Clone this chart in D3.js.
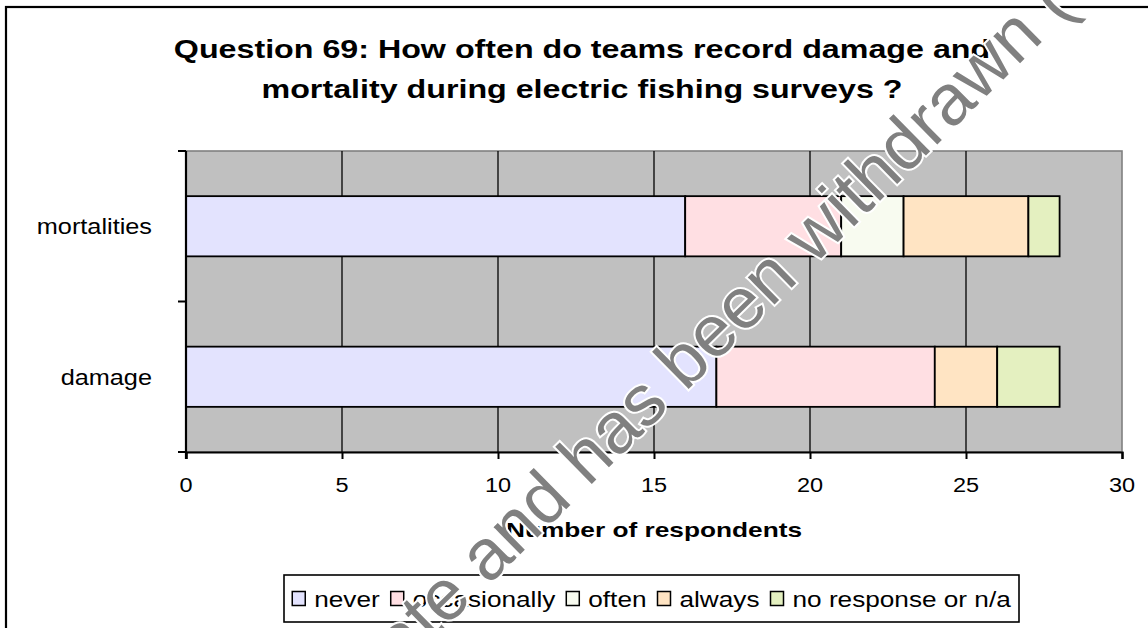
<!DOCTYPE html>
<html><head><meta charset="utf-8">
<script src="https://cdn.jsdelivr.net/npm/d3@7"></script>
<style>
body{margin:0;background:#fff}
svg{display:block}
text{font-family:Arial,"Liberation Sans",sans-serif}
</style>
</head><body>
<svg id="chart" width="1148" height="628"></svg>
<script>
// Survey answers, Question 69 (number of respondents)
const categories = ["mortalities", "damage"];
const seriesNames = ["never", "occasionally", "often", "always", "no response or n/a"];
const never = [16, 17];
const occasionally = [5, 7];
const often = [2, 0];
const always = [4, 2];
const noResponse = [1, 2];
const xTicks = [0, 5, 10, 15, 20, 25, 30];
const titleLines = ["Question 69: How often do teams record damage and", "mortality during electric fishing surveys ?"];
const seriesColors = ["#E3E3FE", "#FFDFE3", "#F8FBF0", "#FFE4C3", "#E4F0C0"];

const rows = categories.map((c, i) => ({
  category: c,
  "never": never[i],
  "occasionally": occasionally[i],
  "often": often[i],
  "always": always[i],
  "no response or n/a": noResponse[i]
}));

const svg = d3.select("#chart");
const plot = {left: 186, right: 1122, top: 151, bottom: 452};

// text helper: the chart's text is set slightly widened
function label(parent, x, y, str, size, sx, opts = {}) {
  return parent.append("text")
    .attr("transform", `translate(${x},${y}) scale(${sx},1)`)
    .attr("font-size", size)
    .attr("font-weight", opts.bold ? "bold" : null)
    .attr("text-anchor", opts.anchor || "start")
    .text(str);
}

// chart area frame
svg.append("rect").attr("x", 6).attr("y", 7).attr("width", 1200).attr("height", 700)
  .attr("fill", "#fff").attr("stroke", "#000").attr("stroke-width", 2.2);

// title
titleLines.forEach((t, i) => label(svg, 582, 58 + i * 40, t, 26, 1.24, {bold: true, anchor: "middle"}));

const x = d3.scaleLinear().domain([0, 30]).range([plot.left, plot.right]);
const y = d3.scaleBand().domain(categories).range([plot.top, plot.bottom])
  .paddingInner(0.6).paddingOuter(0.3);

// plot background
svg.append("rect").attr("x", plot.left).attr("y", plot.top)
  .attr("width", plot.right - plot.left).attr("height", plot.bottom - plot.top)
  .attr("fill", "#C0C0C0").attr("stroke", "#808080").attr("stroke-width", 1.6);

// vertical gridlines
svg.append("g").selectAll("line").data(xTicks.slice(1, -1)).join("line")
  .attr("x1", d => x(d)).attr("x2", d => x(d))
  .attr("y1", plot.top).attr("y2", plot.bottom)
  .attr("stroke", "#000").attr("stroke-width", 1.3);

// stacked bars
const stack = d3.stack().keys(seriesNames)(rows);
svg.append("g").selectAll("g").data(stack).join("g")
  .attr("fill", (d, i) => seriesColors[i])
  .selectAll("rect").data(d => d.filter(s => s[1] > s[0])).join("rect")
  .attr("x", d => x(d[0])).attr("width", d => x(d[1]) - x(d[0]))
  .attr("y", d => y(d.data.category)).attr("height", y.bandwidth())
  .attr("stroke", "#000").attr("stroke-width", 1.8);

// bottom axis
const xAxis = svg.append("g").attr("transform", `translate(0,${plot.bottom})`)
  .call(d3.axisBottom(x).tickValues(xTicks).tickSize(7).tickFormat(""));
xAxis.select(".domain").attr("stroke-width", 2.2);
xAxis.selectAll(".tick line").attr("stroke-width", 2);
xTicks.forEach(t => label(svg, x(t), 492, String(t), 21, 1.12, {anchor: "middle"}));

// left axis: ticks on category boundaries
const yEdges = [plot.top, plot.top + y.step(), plot.bottom];
svg.append("line").attr("x1", plot.left).attr("x2", plot.left)
  .attr("y1", plot.top).attr("y2", plot.bottom + 7)
  .attr("stroke", "#000").attr("stroke-width", 2.2);
svg.append("g").selectAll("line").data(yEdges).join("line")
  .attr("x1", plot.left - 8).attr("x2", plot.left)
  .attr("y1", d => d).attr("y2", d => d)
  .attr("stroke", "#000").attr("stroke-width", 2);
categories.forEach(c => label(svg, 152, y(c) + y.bandwidth() / 2 + 8, c, 22, 1.15, {anchor: "end"}));

// axis title
label(svg, (plot.left + plot.right) / 2, 537, "Number of respondents", 21, 1.25, {bold: true, anchor: "middle"});

// legend
const legendBox = {x: 284, y: 575, w: 735, h: 47};
const LSX = 1.19;
svg.append("rect").attr("x", legendBox.x).attr("y", legendBox.y)
  .attr("width", legendBox.w).attr("height", legendBox.h)
  .attr("fill", "#fff").attr("stroke", "#000").attr("stroke-width", 1.6);
const legend = svg.append("g");
let cursor = 0;
seriesNames.forEach((name, i) => {
  const g = legend.append("g");
  g.append("rect").attr("x", cursor).attr("y", -7).attr("width", 13).attr("height", 14)
    .attr("fill", seriesColors[i]).attr("stroke", "#000").attr("stroke-width", 1.5);
  const t = label(g, cursor + 22, 8, name, 22, LSX);
  cursor += 22 + t.node().getComputedTextLength() * LSX + 11;
});
const legendWidth = cursor - 11;
legend.attr("transform", `translate(${legendBox.x + (legendBox.w - legendWidth) / 2},${legendBox.y + legendBox.h / 2})`);

// status stamp across the page
svg.append("text")
  .attr("transform", "translate(374,698) rotate(-44.5)")
  .attr("font-size", 72).attr("fill", "#808080")
  .attr("stroke", "#fff").attr("stroke-width", 4).attr("paint-order", "stroke")
  .text("date and has been withdrawn (");
</script>
</body></html>
